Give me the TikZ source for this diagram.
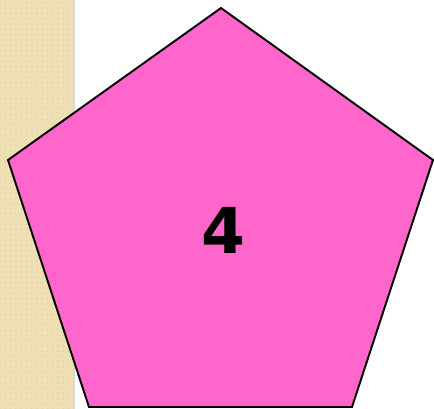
\documentclass[tikz,border=0pt]{standalone}
\usepackage{fontspec}
\newfontfamily\numfont{DejaVu Sans}
\usetikzlibrary{patterns}
\definecolor{stripbeige}{HTML}{EEE0B4}
\definecolor{stripdots}{HTML}{E2D2A2}
\definecolor{pentapink}{HTML}{FF66CC}
\tikzset{
  pentagon/.style={draw=black, line width=1.1pt, fill=pentapink, line join=miter},
  bignum/.style={font=\numfont\bfseries\fontsize{36}{36}\selectfont, inner sep=0pt}
}

\begin{document}
\begin{tikzpicture}[x=0.02cm, y=-0.02cm]
  \useasboundingbox (0,0) rectangle (434,409);

  % beige strip on the left
  \fill[stripbeige] (0,0) rectangle (75,409);
  \fill[pattern=dots, pattern color=stripdots] (0,0) rectangle (73,409);
  \fill[black!15] (73,0) rectangle (75,409);

  % pentagon
  \coordinate (top) at (221,8);
  \coordinate (right) at (433,160);
  \coordinate (botright) at (352,407);
  \coordinate (botleft) at (89,407);
  \coordinate (left) at (8,160);
  \draw[pentagon] (top) -- (right) -- (botright) -- (botleft) -- (left) -- cycle;

  % number
  \node[bignum] (num) at (224,230) {4};
\end{tikzpicture}
\end{document}
